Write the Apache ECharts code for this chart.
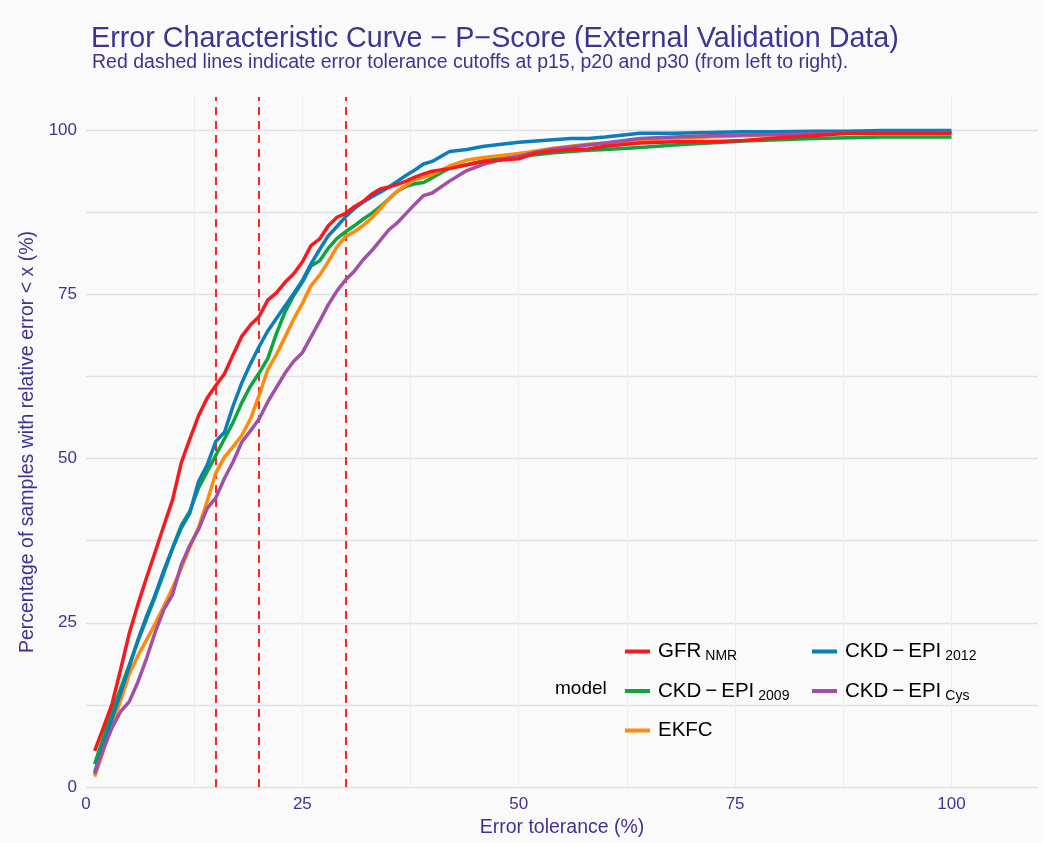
<!DOCTYPE html>
<html><head><meta charset="utf-8">
<script src="https://cdn.jsdelivr.net/npm/echarts@6/dist/echarts.min.js"></script>
<style>html,body{margin:0;padding:0;background:#fafafa}#c{width:1043px;height:843px}</style>
</head><body><div id="c"></div>
<script>
// Error tolerance (%) at which the curves were read
const xTol = [1,2,3,4,5,6,7,8,9,10,11,12,13,14,15,16,17,18,19,20,21,22,23,24,25,26,27,28,29,30,31,32,33,34,35,36,37,38,39,40,
  42,44,46,48,50,52,54,56,58,60,64,68,72,76,80,84,88,92,96,100];
const gfrNMR = [5.5,9.0,12.6,17.9,23.4,27.8,31.9,35.8,39.8,43.7,
  49.3,53.0,56.5,59.2,61.1,62.9,65.8,68.6,70.3,71.6,
  74.1,75.2,76.8,78.1,79.9,82.4,83.4,85.4,86.7,87.3,
  88.3,89.1,90.2,91.0,91.3,91.7,92.2,92.8,93.3,93.7,
  94.1,94.7,95.2,95.4,95.6,96.5,96.8,97.0,97.1,97.5,
  98.0,98.2,98.2,98.4,98.8,99.1,99.5,99.5,99.5,99.5];
const ckdEpi2009 = [3.5,7.5,11.5,15.0,18.6,22.2,25.6,29.0,32.6,36.4,
  39.8,42.0,45.5,48.0,50.5,53.0,55.5,58.5,61.0,63.0,
  65.2,69.0,72.3,74.8,76.8,79.3,80.1,82.0,83.5,84.5,
  85.4,86.4,87.3,88.3,89.5,90.7,91.4,91.8,92.0,92.7,
  94.2,94.7,95.3,95.7,96.0,96.2,96.5,96.7,96.9,97.0,
  97.3,97.7,98.0,98.3,98.5,98.7,98.8,98.9,98.9,98.9];
const ekfc = [1.6,5.5,9.5,13.2,17.2,20.0,22.4,24.9,27.5,30.3,
  33.3,36.5,39.5,43.5,47.8,50.2,51.8,53.5,56.0,59.6,
  63.5,65.8,68.5,71.2,73.6,76.3,77.9,80.0,82.2,83.8,
  84.5,85.4,86.6,88.0,89.5,90.7,91.6,92.4,92.8,93.2,
  94.5,95.4,95.8,96.1,96.4,96.8,97.2,97.5,97.8,98.0,
  98.4,98.7,98.9,99.1,99.3,99.4,99.5,99.6,99.6,99.6];
const ckdEpi2012 = [2.3,6.3,10.4,14.3,18.3,22.4,26.0,29.3,33.0,36.3,
  39.4,41.7,46.5,49.0,52.6,54.0,58.0,61.5,64.4,67.0,
  69.4,71.3,73.2,75.1,77.1,79.6,81.8,83.9,85.3,86.8,
  88.0,89.0,89.8,90.5,91.3,92.2,93.1,93.9,94.8,95.2,
  96.7,97.0,97.5,97.8,98.1,98.3,98.5,98.7,98.7,98.9,
  99.5,99.5,99.6,99.7,99.7,99.8,99.8,99.9,99.9,99.9];
const ckdEpiCys = [2.0,5.8,9.0,11.5,13.0,16.0,19.6,23.6,27.0,29.3,
  33.8,36.8,39.2,42.4,44.0,47.0,49.5,52.5,54.2,56.0,
  58.6,60.8,63.0,64.8,66.1,68.5,70.9,73.4,75.5,77.2,
  78.5,80.2,81.6,83.2,84.8,85.9,87.3,88.7,90.0,90.4,
  92.2,93.8,94.8,95.5,96.0,96.6,97.1,97.4,97.7,98.0,
  98.7,98.9,99.1,99.2,99.3,99.4,99.5,99.5,99.5,99.6];
const cutoffs = [15, 20, 30];
const yGrid = [0, 12.5, 25, 37.5, 50, 62.5, 75, 87.5, 100];
const xGrid = [12.5, 25, 37.5, 50, 62.5, 75, 87.5, 100];

const models = [
  {name: 'CKD-EPI2009', data: ckdEpi2009, color: '#0CA53C', main: ['CKD', '−', 'EPI'], sub: '2009'},
  {name: 'EKFC', data: ekfc, color: '#FF8A0C', main: ['EKFC'], sub: ''},
  {name: 'CKD-EPI2012', data: ckdEpi2012, color: '#0B7DBA', main: ['CKD', '−', 'EPI'], sub: '2012'},
  {name: 'CKD-EPICys', data: ckdEpiCys, color: '#A24FA6', main: ['CKD', '−', 'EPI'], sub: 'Cys'},
  {name: 'GFR_NMR', data: gfrNMR, color: '#F8181E', main: ['GFR'], sub: 'NMR'}
];
const byName = {};
models.forEach(m => byName[m.name] = m);

const TXT = '#3d3492';
const FONT = 'Liberation Sans';

const legendCommon = {
  orient: 'vertical',
  icon: 'rect',
  itemWidth: 25,
  itemHeight: 4,
  itemGap: 17,
  selectedMode: false,
  itemStyle: {borderWidth: 0},
  formatter: function (n) {
    const m = byName[n];
    let s = '{m|' + m.main[0] + '}';
    if (m.main.length > 1) s += '{d|' + m.main[1] + '}{e|' + m.main[2] + '}';
    if (m.sub) s += '{s|' + m.sub + '}';
    return s;
  },
  textStyle: {
    fontFamily: FONT,
    rich: {
      m: {fontSize: 20.5, color: '#000', lineHeight: 24, padding: [0, 0, 0, 3], fontFamily: FONT},
      d: {fontSize: 20.5, color: '#000', lineHeight: 24, padding: [0, 4, 0, 4], fontFamily: FONT},
      e: {fontSize: 20.5, color: '#000', lineHeight: 24, fontFamily: FONT},
      s: {fontSize: 14, color: '#000', lineHeight: 14, verticalAlign: 'bottom', padding: [0, 0, 0, 4], fontFamily: FONT}
    }
  }
};

const series = [];
series.push({
  type: 'line', name: '_grid', data: [], z: 1, silent: true,
  markLine: {
    z: 1, silent: true, symbol: 'none', animation: false,
    label: {show: false},
    data: yGrid.map(v => ({yAxis: v, lineStyle: {color: '#e1e1e1', width: 1.4, type: 'solid'}}))
      .concat(xGrid.map(v => ({xAxis: v, lineStyle: {color: '#eeeeee', width: 1, type: 'solid'}})))
  }
});
series.push({
  type: 'line', name: '_cut', data: [], z: 2, silent: true,
  markLine: {
    z: 2, silent: true, symbol: 'none', animation: false,
    label: {show: false},
    lineStyle: {color: '#FF2424', width: 2, type: [8, 6]},
    data: cutoffs.map(v => ({xAxis: v}))
  }
});
models.forEach(m => {
  series.push({
    type: 'line', name: m.name, z: 3,
    data: xTol.map((x, i) => [x, m.data[i]]),
    showSymbol: false, symbol: 'none',
    lineStyle: {color: m.color, width: 3.5},
    itemStyle: {color: m.color}
  });
});

const chart = echarts.init(document.getElementById('c'), null, {renderer: 'canvas'});
chart.setOption({
  backgroundColor: '#fafafa',
  animation: false,
  title: [
    {text: 'Error Characteristic Curve − P−Score (External Validation Data)', left: 86, top: 20,
     textStyle: {fontFamily: FONT, fontSize: 28.7, fontWeight: 'normal', color: TXT}},
    {text: 'Red dashed lines indicate error tolerance cutoffs at p15, p20 and p30 (from left to right).', left: 87, top: 48,
     textStyle: {fontFamily: FONT, fontSize: 19.5, fontWeight: 'normal', color: TXT}}
  ],
  grid: {left: 86, right: 5, top: 97, bottom: 50, containLabel: false},
  xAxis: {
    type: 'value', min: 0, max: 110, interval: 25,
    name: 'Error tolerance (%)', nameLocation: 'middle', nameGap: 27,
    nameTextStyle: {fontFamily: FONT, fontSize: 19.5, color: TXT},
    axisLine: {show: false}, axisTick: {show: false}, splitLine: {show: false},
    axisLabel: {fontFamily: FONT, fontSize: 17, color: TXT, margin: 9, showMaxLabel: false}
  },
  yAxis: {
    type: 'value', min: 0, max: 105, interval: 25,
    name: 'Percentage of samples with relative error < x (%)', nameLocation: 'middle', nameGap: 44,
    nameTextStyle: {fontFamily: FONT, fontSize: 19.5, color: TXT},
    axisLine: {show: false}, axisTick: {show: false}, splitLine: {show: false},
    axisLabel: {fontFamily: FONT, fontSize: 17, color: TXT, margin: 9, showMaxLabel: false}
  },
  legend: [
    Object.assign({}, legendCommon, {data: ['GFR_NMR', 'CKD-EPI2009', 'EKFC'], left: 620, top: 636}),
    Object.assign({}, legendCommon, {data: ['CKD-EPI2012', 'CKD-EPICys'], left: 807, top: 636})
  ],
  graphic: [
    {type: 'text', left: 555, top: 679, silent: true,
     style: {text: 'model', fontFamily: FONT, fontSize: 19, fill: '#000'}}
  ],
  series: series
});
</script>
</body></html>
